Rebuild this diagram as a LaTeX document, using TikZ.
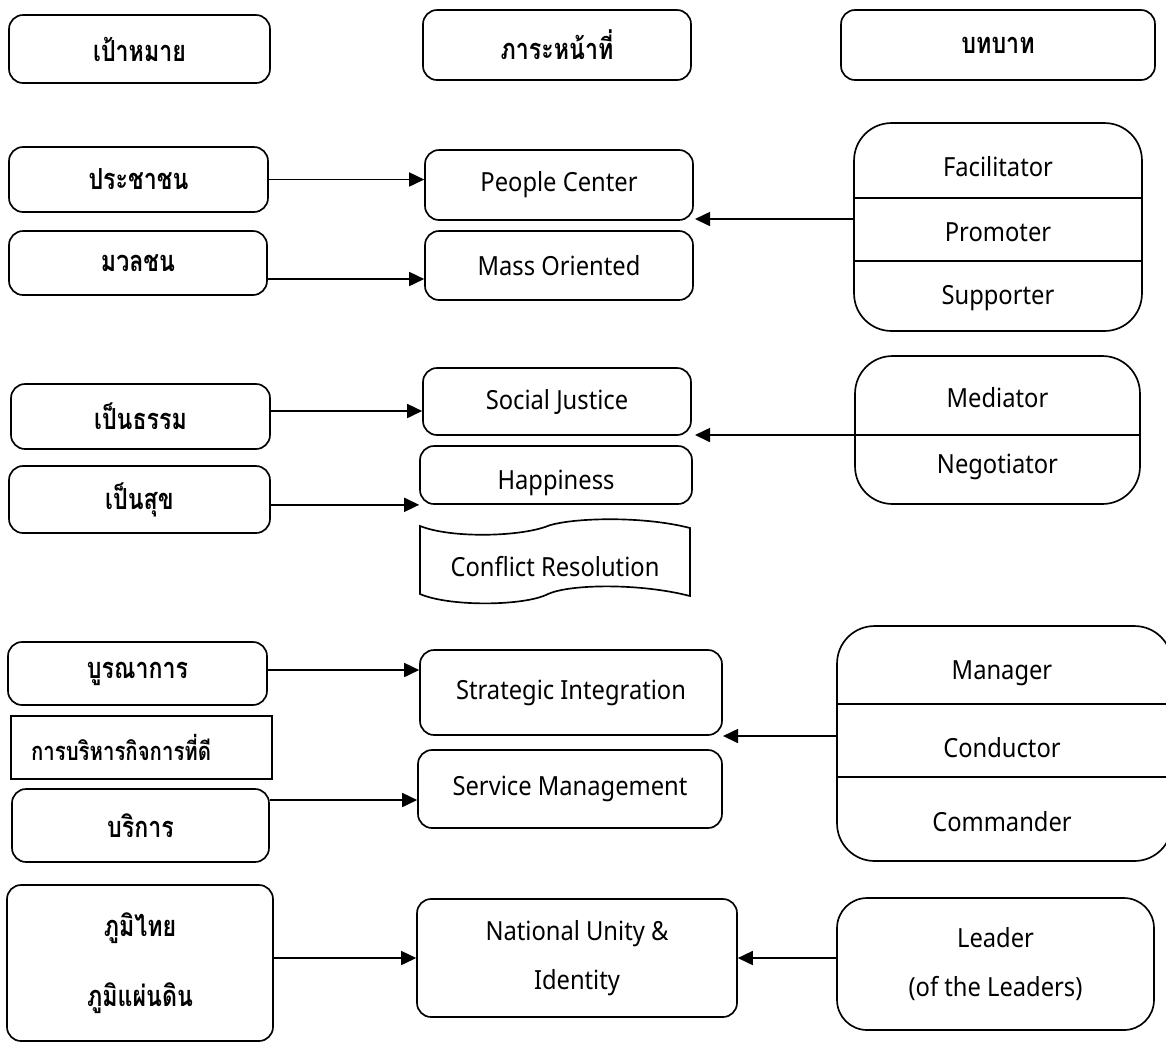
\documentclass[tikz,border=0pt]{standalone}
\usepackage{fontspec}
\setmainfont{Noto Sans}[FakeStretch=0.9]
\newfontfamily\thaifont[Script=Thai, FakeStretch=0.8]{Loma}
\usetikzlibrary{arrows.meta}

\begin{document}
\begin{tikzpicture}[x=0.02cm, y=-0.02cm, line width=0.95pt,
  thbox/.style={draw, rounded corners=0.28cm, align=center, inner sep=0pt,
    font=\thaifont\bfseries\fontsize{16.5pt}{40pt}\selectfont},
  enbox/.style={draw, rounded corners=0.28cm, align=center, inner sep=0pt,
    font=\fontsize{15pt}{28pt}\selectfont},
  rolebox/.style={draw, rounded corners=0.75cm, inner sep=0pt},
  roletxt/.style={align=center, font=\fontsize{15pt}{28pt}\selectfont},
  link/.style={-{Triangle[length=3mm,width=2.8mm]}}]
  \useasboundingbox (0,0) rectangle (1166,1046);

  % headers
  \node[thbox, minimum width=5.22cm, minimum height=1.36cm] (h1) at (139.5,49) {เป้าหมาย};
  \node[thbox, minimum width=5.36cm, minimum height=1.40cm] (h2) at (557,45) {ภาระหน้าที่};
  \node[thbox, minimum width=6.28cm, minimum height=1.40cm] (h3) at (998,45) {บทบาท};

  % goals
  \foreach \n/\cx/\cy/\w/\h/\t in {g1/138.5/179.5/5.18/1.30/ประชาชน, g2/138/263/5.16/1.28/มวลชน,
      g3/140.5/416.5/5.18/1.30/เป็นธรรม, g4/139.5/499.5/5.22/1.34/เป็นสุข,
      g5/137.5/673.5/5.18/1.26/บูรณาการ, g7/140.5/825.5/5.14/1.46/บริการ}
    \node[thbox, minimum width=\w cm, minimum height=\h cm] (\n) at (\cx,\cy) {\t};
  \node[thbox, rounded corners=0pt, text width=4.42cm, align=left, inner xsep=0.4cm,
    minimum height=1.26cm, font=\thaifont\bfseries\fontsize{14.5pt}{17pt}\selectfont]
    (g6) at (141.5,747.5) {การบริหารกิจการที่ดี};
  \node[thbox, minimum width=5.32cm, minimum height=3.12cm] (g8) at (140,963) {ภูมิไทย\\ภูมิแผ่นดิน};

  % duties
  \foreach \n/\cx/\cy/\w/\h/\t in {d1/559/185/5.36/1.40/People Center, d2/559/265.5/5.36/1.38/Mass Oriented,
      d3/557/401.5/5.36/1.34/Social Justice, d6/571/692.5/6.04/1.70/Strategic Integration,
      d7/570/789/6.08/1.56/Service Management}
    \node[enbox, minimum width=\w cm, minimum height=\h cm] (\n) at (\cx,\cy) {\t};
  \node[enbox, minimum width=5.44cm, minimum height=1.16cm] (d4) at (556,475)
    {\raisebox{-0.16cm}[\height][\depth]{Happiness}};
  \draw (420,526) .. controls (450,538) and (515,537) .. (545,527)
    .. controls (565,518) and (640,515) .. (690,528) -- (690,596)
    .. controls (640,583) and (570,584) .. (548,594)
    .. controls (525,606) and (450,607) .. (420,594) -- cycle;
  \node[roletxt] (d5) at (555,567) {Conflict Resolution};
  \node[enbox, minimum width=6.40cm, minimum height=2.36cm] (d8) at (577,958) {National Unity \&\\Identity};

  % roles
  \node[rolebox, minimum width=5.76cm, minimum height=4.16cm] (r1) at (998,227) {};
  \foreach \y in {198,261} \draw (r1.west |- 0,\y) -- (r1.east |- 0,\y);
  \foreach \n/\y/\t in {r1a/167/Facilitator, r1b/232/Promoter, r1c/298/Supporter}
    \node[roletxt] (\n) at (998,\y) {\t};

  \node[rolebox, minimum width=5.70cm, minimum height=2.96cm] (r2) at (997.5,430) {};
  \draw (r2.west |- 0,435) -- (r2.east |- 0,435);
  \foreach \n/\y/\t in {r2a/398/Mediator, r2b/467/Negotiator}
    \node[roletxt] (\n) at (997.5,\y) {\t};

  \node[rolebox, minimum width=6.70cm, minimum height=4.70cm] (r3) at (1004.5,743.5) {};
  \foreach \y in {704,777} \draw (r3.west |- 0,\y) -- (r3.east |- 0,\y);
  \foreach \n/\y/\t in {r3a/673/Manager, r3b/748/Conductor, r3c/822/Commander}
    \node[roletxt] (\n) at (1002,\y) {\t};

  \node[rolebox, rounded corners=0.6cm, minimum width=6.34cm, minimum height=2.64cm] (r4) at (995.5,964)
    {\parbox{6cm}{\centering\fontsize{15pt}{28pt}\selectfont Leader\\(of the Leaders)}};

  % arrows
  \coordinate (y2) at (0,279);
  \coordinate (y3) at (0,411);
  \coordinate (y5) at (0,670);
  \coordinate (y7) at (0,800);
  \coordinate (t1) at (695,219);
  \coordinate (t2) at (695,435);
  \coordinate (t3) at (723,736);
  \draw[link] (g1.east) -- (g1.east -| d1.west);
  \draw[link] (g2.east |- y2) -- (d2.west |- y2);
  \draw[link] (g3.east |- y3) -- (d3.west |- y3);
  \draw[link] (g4.east |- d4.south west) -- (d4.south west);
  \draw[link] (g5.east |- y5) -- (d6.west |- y5);
  \draw[link] (g7.east |- y7) -- (d7.west |- y7);
  \draw[link] (g8.east |- d8.west) -- (d8.west);
  \draw[link] (r1.west |- t1) -- (t1);
  \draw[link] (r2.west |- t2) -- (t2);
  \draw[link] (r3.west |- t3) -- (t3);
  \draw[link] (r4.west |- d8.east) -- (d8.east);
\end{tikzpicture}
\end{document}
